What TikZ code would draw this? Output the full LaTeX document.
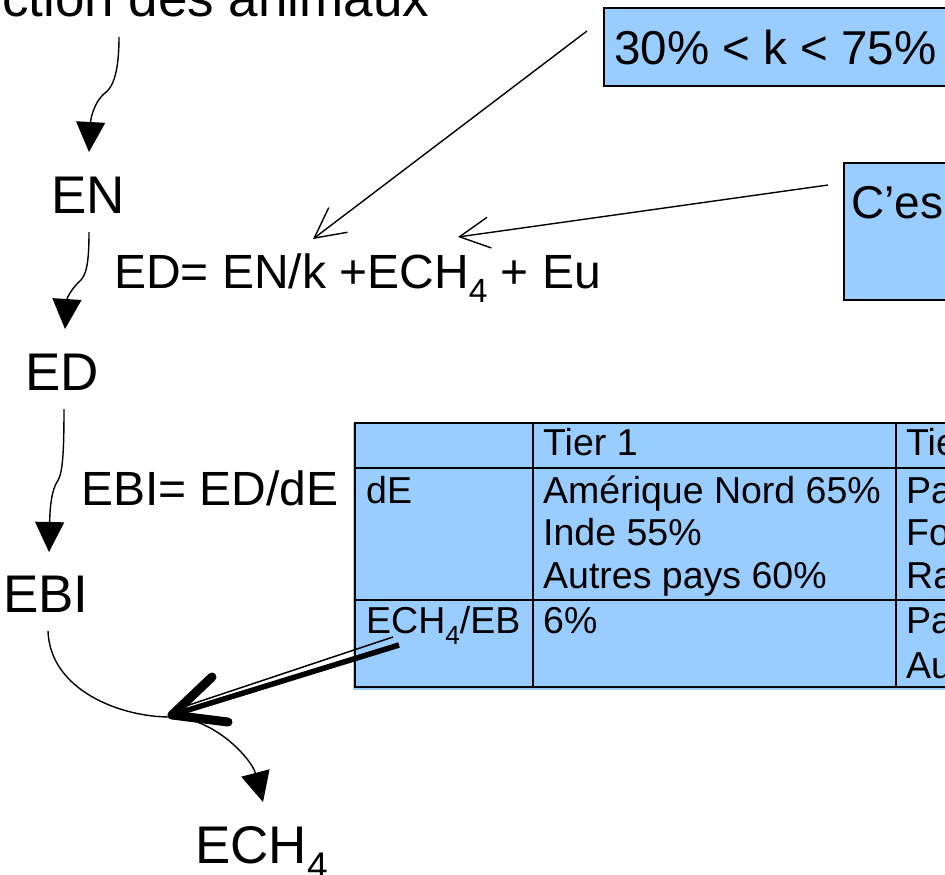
\documentclass[tikz,border=0pt]{standalone}
\usepackage{fontspec}
\setmainfont{Liberation Sans}
\usepackage{graphicx}
\usetikzlibrary{arrows.meta}
\definecolor{cellblue}{HTML}{99CCFF}
% lowered, reduced index digit (as in ECH4)
\newcommand\lowidx[1]{\raisebox{-0.3em}{\scalebox{0.7}{#1}}}

\begin{document}
\begin{tikzpicture}[x=1pt,y=-1pt,
  bigtxt/.style={inner sep=0pt, anchor=base west, font=\fontsize{53}{63}\selectfont},
  eqtxt/.style={inner sep=0pt, anchor=base west, font=\fontsize{48}{57}\selectfont},
  boxtxt/.style={inner sep=0pt, anchor=base west, font=\fontsize{47.5}{56}\selectfont},
  celltxt/.style={inner sep=0pt, anchor=base west, font=\fontsize{37.5}{44}\selectfont},
  flow/.style={line width=1.4pt, -{Triangle[length=30pt,width=29pt]}},
  pointer/.style={line width=1.4pt, -{Straight Barb[length=30pt,width=31pt]}},
  infobox/.style={fill=cellblue, draw=black, line width=2pt, inner sep=0pt, anchor=north west},
  rule/.style={line width=2pt},
]
\useasboundingbox (0,0) rectangle (945,875);

% ---- chain of energies on the left
\node[bigtxt] (feed) at (2,17) {ction des animaux};
\node[bigtxt] (EN) at (51,213) {EN};
\node[bigtxt] (ED) at (25,390) {ED};
\node[bigtxt] (EBI) at (3,612) {EBI};
\node[bigtxt] (ECH) at (195,863) {ECH\lowidx{4}};

\node[eqtxt] (eqED) at (114,288) {ED= EN/k +ECH\lowidx{4} + Eu};
\node[eqtxt] (eqEBI) at (81,505) {EBI= ED/dE};

% wavy connectors between the levels
\coordinate (f0) at (119,37);  \coordinate (f1) at (105,93);  \coordinate (f2) at (89,152);
\draw[flow] (f0) .. controls (119,75) and (112,88) .. (f1)
                 .. controls (96,100) and (91,115) .. (f2);
\coordinate (n0) at (89,232);  \coordinate (n1) at (80,281);  \coordinate (n2) at (65,329);
\draw[flow] (n0) .. controls (89,265) and (86,275) .. (n1)
                 .. controls (72,288) and (67,298) .. (n2);
\coordinate (d0) at (64,409);  \coordinate (d1) at (57,482);  \coordinate (d2) at (49,552);
\draw[flow] (d0) .. controls (64,460) and (62,475) .. (d1)
                 .. controls (52,490) and (50,505) .. (d2);
\coordinate (b0) at (48,631);  \coordinate (bm) at (170,717);  \coordinate (b2) at (263,802);
\draw[flow] (b0) .. controls (50,690) and (120,717) .. (bm)
                 .. controls (215,717) and (252,760) .. (b2);

% ---- info boxes top right
\node[infobox, minimum width=360pt, minimum height=78pt] (kbox) at (603,7) {};
\node[boxtxt] (ktxt) at (614,64) {30\% < k < 75\%};
\node[infobox, minimum width=120pt, minimum height=137pt] (cbox) at (843,162) {};
\node[boxtxt, font=\fontsize{46}{54}\selectfont] (ctxt) at (851,218) {C’es};

\coordinate (kfrom) at (587,31);  \coordinate (kto) at (313,239);
\draw[pointer] (kfrom) -- (kto);
\coordinate (cfrom) at (828,185); \coordinate (cto) at (458,237);
\draw[pointer] (cfrom) -- (cto);

% ---- table of coefficients
\fill[cellblue] (353,423) rectangle (960,690);
\draw[rule] (355,423) rectangle (960,687);
\draw[rule] (355,468) -- (960,468);
\draw[rule] (355,600) -- (960,600);
\draw[rule] (533,423) -- (533,687);
\draw[rule] (896,423) -- (896,687);

\node[celltxt] (h2) at (543,455) {Tier 1};
\node[celltxt] (h3) at (906,455) {Tie};
\node[celltxt] (r1) at (366,503) {dE};
\node[celltxt] (t1a) at (543,503) {Amérique Nord 65\%};
\node[celltxt] (t1b) at (543,545) {Inde 55\%};
\node[celltxt] (t1c) at (543,588) {Autres pays 60\%};
\node[celltxt] (t2a) at (906,503) {Pa};
\node[celltxt] (t2b) at (906,545) {Fo};
\node[celltxt] (t2c) at (906,588) {Ra};
\node[celltxt] (r2) at (366,633) {ECH\lowidx{4}/EB};
\node[celltxt] (t1d) at (543,633) {6\%};
\node[celltxt] (t2d) at (906,633) {Pa};
\node[celltxt] (t2e) at (906,678) {Au};

% ---- heavy pointer from the table to the EBI branch
\coordinate (ptail) at (399,645);
\coordinate (ptail2) at (393,637);
\coordinate (ptip) at (172,715);
\coordinate (ptip2) at (186,706);
\coordinate (parm1) at (212,677);
\coordinate (parm2) at (228,722);
\draw[line width=5.5pt] (ptail) -- (ptip);
\draw[line width=1.5pt] (ptail2) -- (ptip2);
\draw[line width=9pt, line cap=round, line join=round] (parm1) -- (ptip) -- (parm2);
\end{tikzpicture}
\end{document}
